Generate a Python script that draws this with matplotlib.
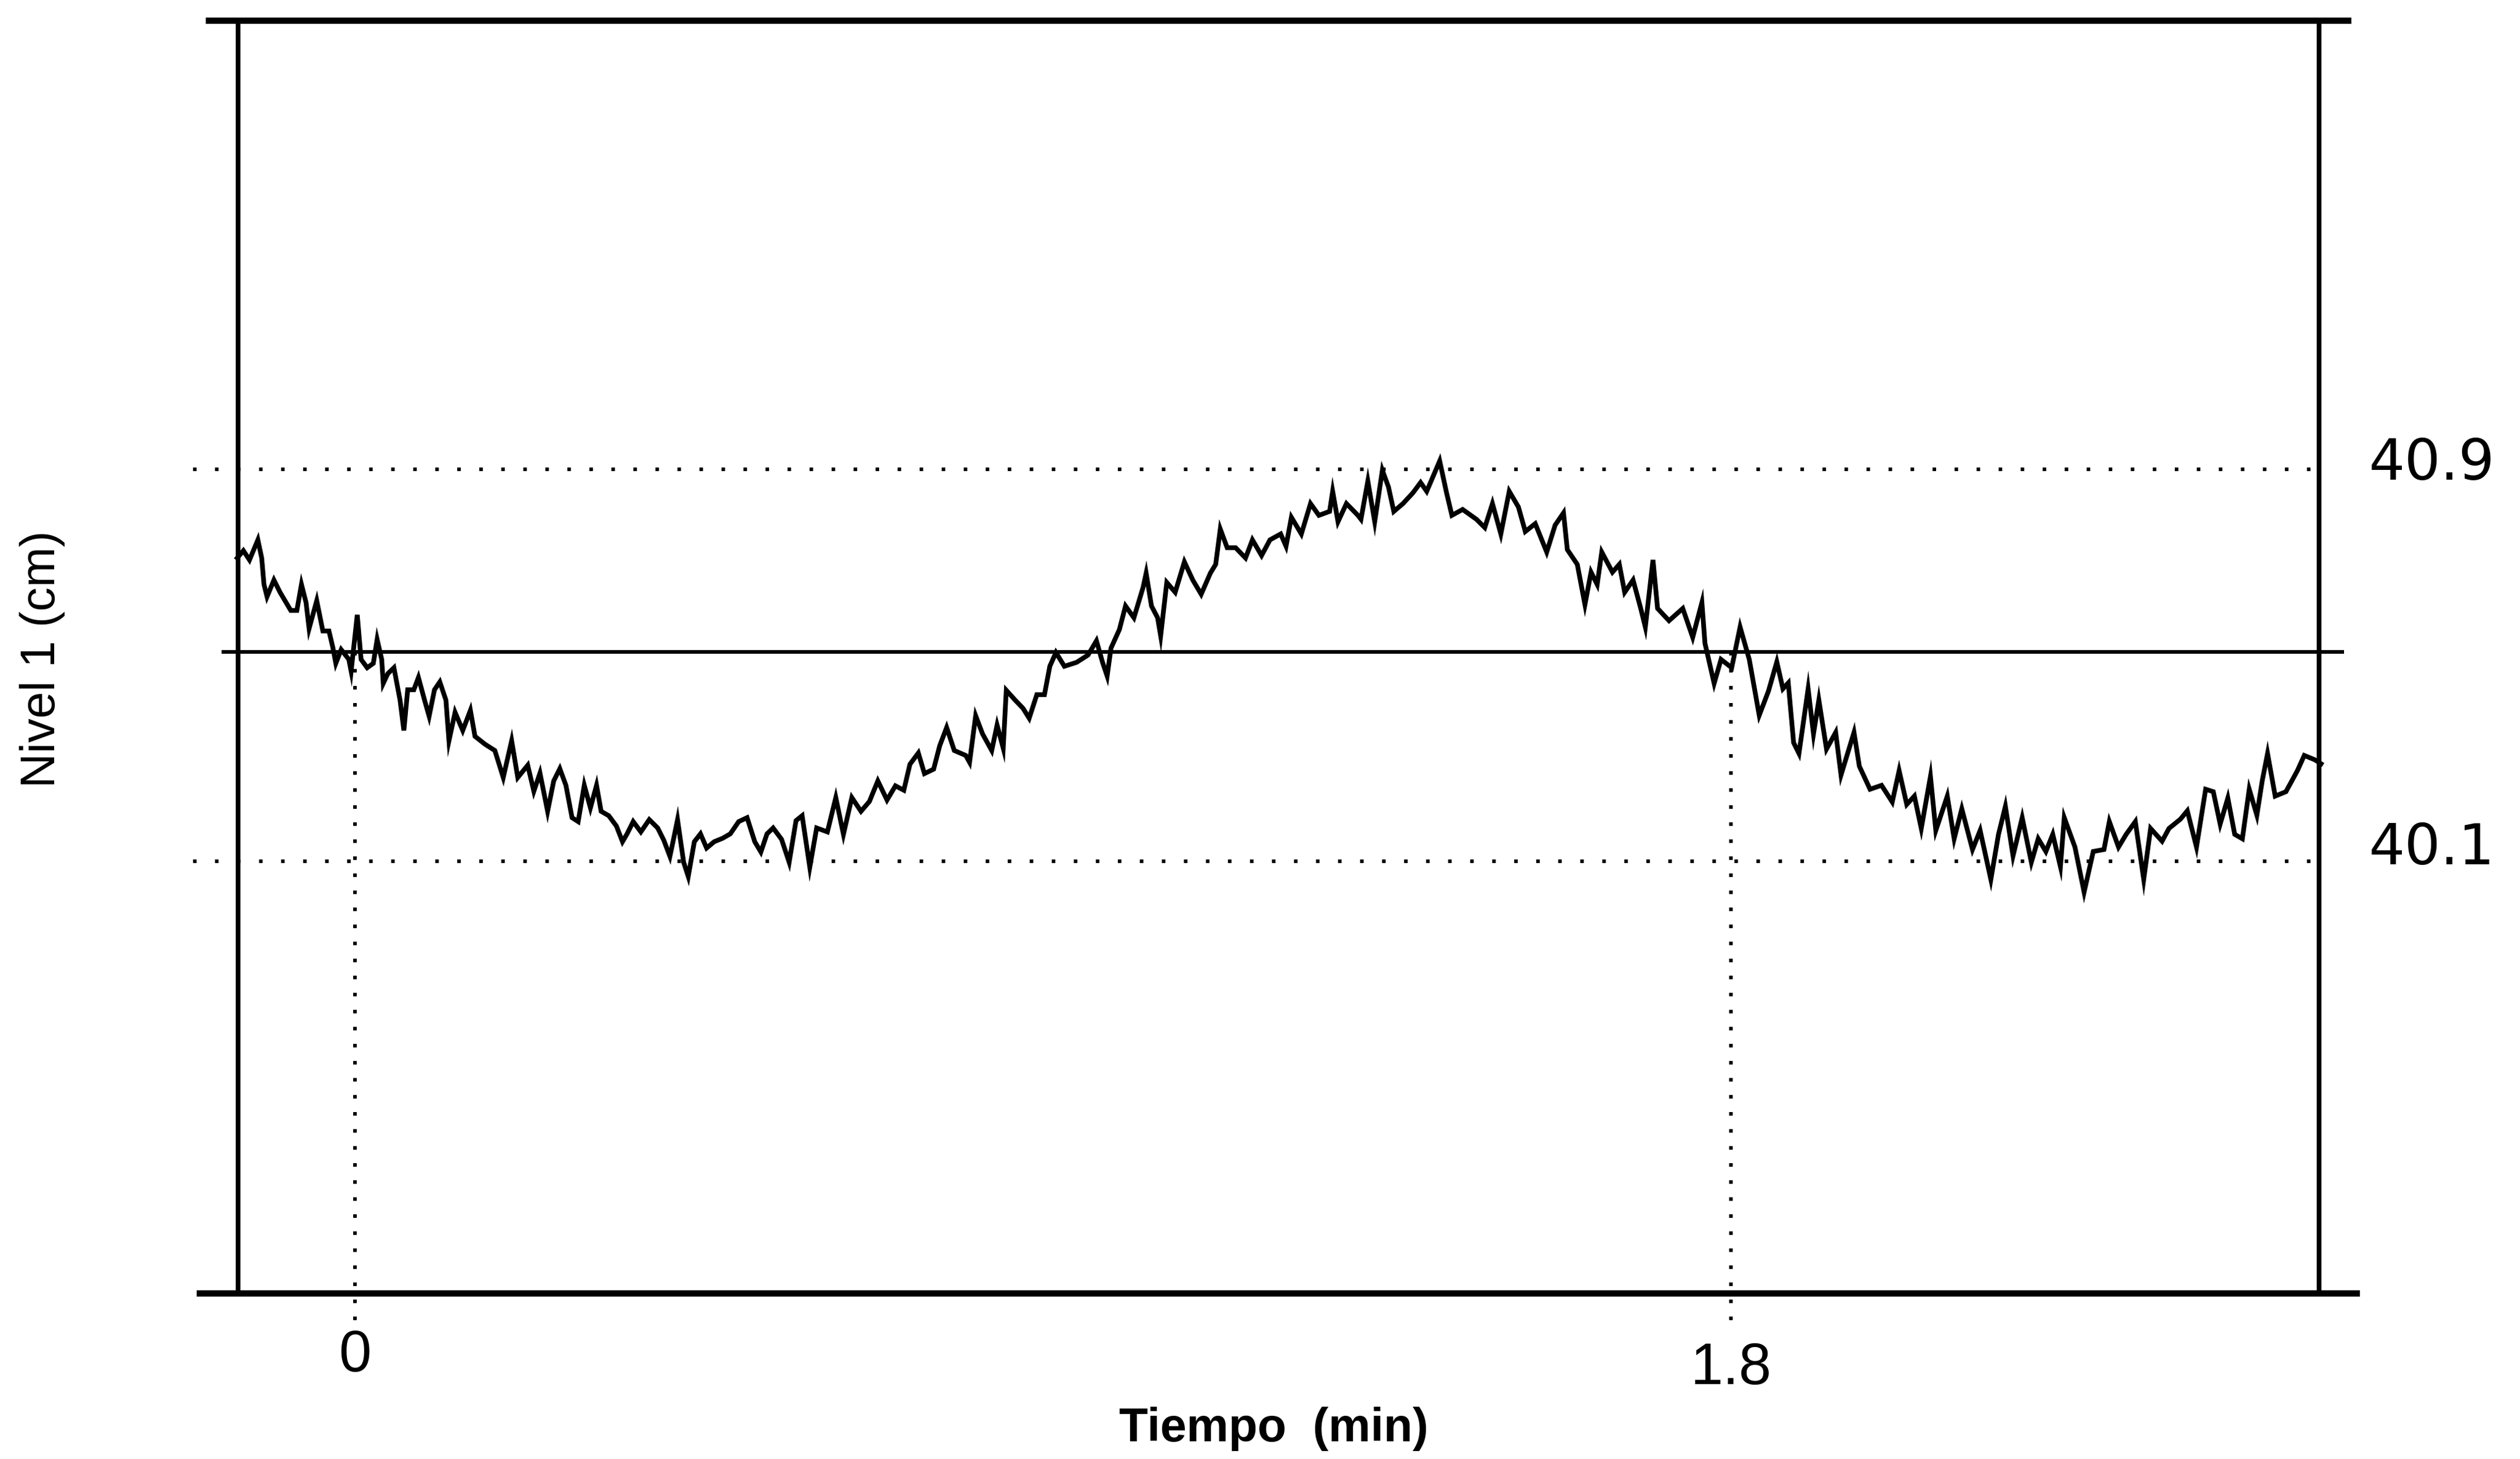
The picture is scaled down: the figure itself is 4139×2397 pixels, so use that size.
import matplotlib
matplotlib.use("Agg")
import matplotlib.pyplot as plt

# Recorded level trace: time (min) and level (cm)
tiempo_min = [
    -0.154, -0.146, -0.138, -0.127, -0.122, -0.119, -0.115, -0.106, -0.098, -0.084,
    -0.076, -0.070, -0.064, -0.060, -0.050, -0.042, -0.034, -0.029, -0.025, -0.018,
    -0.008, -0.005, 0.003, 0.008, 0.016, 0.024, 0.029, 0.035, 0.037, 0.043,
    0.051, 0.059, 0.064, 0.069, 0.077, 0.083, 0.091, 0.097, 0.104, 0.111,
    0.119, 0.123, 0.131, 0.141, 0.151, 0.157, 0.170, 0.183, 0.194, 0.205,
    0.213, 0.226, 0.234, 0.242, 0.252, 0.260, 0.268, 0.276, 0.284, 0.292,
    0.300, 0.308, 0.316, 0.322, 0.332, 0.342, 0.350, 0.356, 0.364, 0.374,
    0.385, 0.396, 0.404, 0.412, 0.417, 0.422, 0.430, 0.436, 0.444, 0.452,
    0.460, 0.470, 0.481, 0.491, 0.502, 0.513, 0.523, 0.531, 0.539, 0.547,
    0.558, 0.568, 0.577, 0.585, 0.595, 0.604, 0.618, 0.629, 0.639, 0.650,
    0.662, 0.673, 0.684, 0.696, 0.707, 0.718, 0.726, 0.737, 0.745, 0.757,
    0.765, 0.774, 0.784, 0.799, 0.804, 0.812, 0.821, 0.833, 0.840, 0.848,
    0.852, 0.863, 0.874, 0.882, 0.892, 0.902, 0.909, 0.917, 0.928, 0.944,
    0.959, 0.970, 0.978, 0.984, 0.989, 1.000, 1.008, 1.019, 1.031, 1.035,
    1.042, 1.050, 1.054, 1.062, 1.073, 1.085, 1.096, 1.107, 1.119, 1.126,
    1.132, 1.141, 1.152, 1.165, 1.174, 1.186, 1.197, 1.211, 1.218, 1.225,
    1.238, 1.250, 1.261, 1.275, 1.279, 1.286, 1.297, 1.312, 1.316, 1.325,
    1.334, 1.344, 1.352, 1.359, 1.371, 1.384, 1.394, 1.402, 1.419, 1.428,
    1.435, 1.449, 1.467, 1.478, 1.488, 1.499, 1.510, 1.522, 1.531, 1.544,
    1.559, 1.570, 1.581, 1.586, 1.599, 1.609, 1.617, 1.625, 1.631, 1.645,
    1.654, 1.661, 1.672, 1.682, 1.688, 1.698, 1.704, 1.719, 1.737, 1.750,
    1.762, 1.766, 1.778, 1.787, 1.801, 1.812, 1.824, 1.837, 1.849, 1.860,
    1.868, 1.875, 1.882, 1.889, 1.901, 1.908, 1.915, 1.925, 1.937, 1.944,
    1.961, 1.968, 1.982, 1.997, 2.011, 2.020, 2.030, 2.040, 2.049, 2.061,
    2.068, 2.083, 2.092, 2.102, 2.116, 2.126, 2.140, 2.150, 2.159, 2.169,
    2.181, 2.193, 2.202, 2.212, 2.221, 2.231, 2.236, 2.250, 2.262, 2.274,
    2.288, 2.295, 2.307, 2.317, 2.329, 2.340, 2.349, 2.364, 2.373, 2.388,
    2.397, 2.409, 2.421, 2.431, 2.440, 2.450, 2.459, 2.469, 2.478, 2.488,
    2.495, 2.502, 2.512, 2.526, 2.541, 2.550, 2.564, 2.572,
]

nivel_cm = [
    40.719, 40.734, 40.715, 40.756, 40.719, 40.665, 40.640, 40.674, 40.649, 40.612,
    40.612, 40.665, 40.628, 40.575, 40.632, 40.570, 40.570, 40.537, 40.504, 40.532,
    40.512, 40.488, 40.603, 40.512, 40.495, 40.504, 40.553, 40.512, 40.463, 40.483,
    40.495, 40.429, 40.367, 40.450, 40.450, 40.475, 40.429, 40.396, 40.450, 40.466,
    40.429, 40.346, 40.404, 40.367, 40.408, 40.355, 40.339, 40.326, 40.271, 40.346,
    40.271, 40.296, 40.243, 40.280, 40.202, 40.264, 40.289, 40.255, 40.189, 40.181,
    40.255, 40.209, 40.255, 40.202, 40.193, 40.172, 40.140, 40.156, 40.181, 40.160,
    40.185, 40.168, 40.143, 40.110, 40.147, 40.185, 40.098, 40.069, 40.140, 40.156,
    40.127, 40.140, 40.147, 40.156, 40.181, 40.189, 40.140, 40.119, 40.156, 40.168,
    40.145, 40.098, 40.183, 40.193, 40.088, 40.168, 40.160, 40.230, 40.155, 40.230,
    40.202, 40.222, 40.264, 40.225, 40.254, 40.245, 40.298, 40.321, 40.279, 40.288,
    40.336, 40.373, 40.326, 40.316, 40.302, 40.397, 40.360, 40.326, 40.378, 40.331,
    40.449, 40.430, 40.412, 40.392, 40.440, 40.440, 40.498, 40.526, 40.498, 40.506,
    40.521, 40.550, 40.506, 40.478, 40.535, 40.573, 40.621, 40.597, 40.659, 40.688,
    40.621, 40.597, 40.560, 40.669, 40.649, 40.711, 40.674, 40.645, 40.688, 40.706,
    40.778, 40.740, 40.740, 40.719, 40.756, 40.724, 40.756, 40.768, 40.743, 40.802,
    40.768, 40.830, 40.806, 40.814, 40.855, 40.793, 40.830, 40.806, 40.798, 40.876,
    40.793, 40.898, 40.864, 40.814, 40.830, 40.852, 40.873, 40.855, 40.917, 40.852,
    40.806, 40.818, 40.798, 40.781, 40.830, 40.768, 40.855, 40.823, 40.773, 40.789,
    40.731, 40.786, 40.811, 40.736, 40.706, 40.624, 40.690, 40.665, 40.731, 40.690,
    40.706, 40.649, 40.674, 40.616, 40.578, 40.715, 40.616, 40.591, 40.616, 40.557,
    40.628, 40.545, 40.463, 40.512, 40.495, 40.578, 40.512, 40.398, 40.447, 40.507,
    40.452, 40.464, 40.342, 40.320, 40.452, 40.360, 40.429, 40.329, 40.363, 40.276,
    40.363, 40.294, 40.247, 40.255, 40.221, 40.285, 40.216, 40.233, 40.167, 40.273,
    40.163, 40.233, 40.146, 40.207, 40.124, 40.163, 40.063, 40.155, 40.212, 40.111,
    40.189, 40.098, 40.146, 40.120, 40.155, 40.089, 40.189, 40.129, 40.037, 40.120,
    40.124, 40.181, 40.129, 40.155, 40.181, 40.063, 40.167, 40.141, 40.167, 40.186,
    40.203, 40.129, 40.247, 40.242, 40.176, 40.229, 40.155, 40.146, 40.247, 40.194,
    40.264, 40.320, 40.233, 40.242, 40.285, 40.316, 40.307, 40.299,
]

# Reference levels and marked instants
nivel_ref = 40.527
nivel_marcas = [40.9, 40.1]
etiquetas_nivel = ["40.9", "40.1"]
tiempo_marcas = [0.0, 1.8]
etiquetas_tiempo = ["0", "1.8"]

W, H = 4139, 2397
fig = plt.figure(figsize=(W / 100, H / 100), dpi=100)
fig.patch.set_facecolor("white")

# Plot box between the two vertical frame lines
x0, x1 = 391, 3809
y0, y1 = 34, 2125
ax = fig.add_axes([x0 / W, 1 - y1 / H, (x1 - x0) / W, (y1 - y0) / H])

# pixel -> data helpers for the frame layout
px_per_min = (2843 - 583) / 1.8
px_per_cm = (1415 - 771) / 0.8
def tx(px):
    return (px - 583) / px_per_min
def vy(py):
    return 40.1 - (py - 1415) / px_per_cm

ax.set_xlim(tx(x0), tx(x1))
ax.set_ylim(vy(y1), vy(y0))
ax.set_axis_off()

k = "black"
# frame: verticals at the box edges, horizontals running slightly past them
ax.vlines([tx(x0), tx(x1)], vy(y1), vy(y0), colors=k, lw=5.5, clip_on=False)
ax.hlines(vy(y0), tx(338), tx(3862), colors=k, lw=7.5, clip_on=False)
ax.hlines(vy(y1), tx(323), tx(3876), colors=k, lw=7.5, clip_on=False)

# reference level line
ax.hlines(nivel_ref, tx(364), tx(3850), colors=k, lw=4.4, clip_on=False)

# dotted level guides
for v in nivel_marcas:
    ax.plot([tx(317), tx(3801)], [v, v], color=k, lw=4.2,
            linestyle=(0, (1, 5.2)), clip_on=False)

# dotted time guides
for t in tiempo_marcas:
    ax.plot([t, t], [nivel_ref, vy(2191)], color=k, lw=4.2,
            linestyle=(0, (1, 3.8)), clip_on=False)

# level trace
ax.plot(tiempo_min, nivel_cm, color=k, lw=5.6,
        solid_joinstyle="miter", clip_on=False)

# right-hand level labels
for v, lab, dy in zip(nivel_marcas, etiquetas_nivel, [9, 21]):
    ax.text(tx(3994), v + dy / px_per_cm, lab, ha="center", va="center",
            fontsize=67, family="DejaVu Sans", color=k, clip_on=False)

# time labels under the box
for t, lab, py in zip(tiempo_marcas, etiquetas_tiempo, [2228, 2249]):
    ax.text(t, vy(py), lab, ha="center", va="center", fontsize=69,
            family=["Liberation Sans"], color=k, clip_on=False)

ax.text(tx(2092), vy(2347), "Tiempo  (min)", ha="center", va="center",
        fontsize=56, fontweight="bold", family=["Liberation Sans"],
        color=k, clip_on=False)
ax.text(tx(70), vy(1083), "Nivel 1 (cm)", ha="center", va="center",
        rotation=90, fontsize=57, family=["Liberation Sans"],
        color=k, clip_on=False)

fig.savefig("out.png", dpi=100, facecolor="white")
